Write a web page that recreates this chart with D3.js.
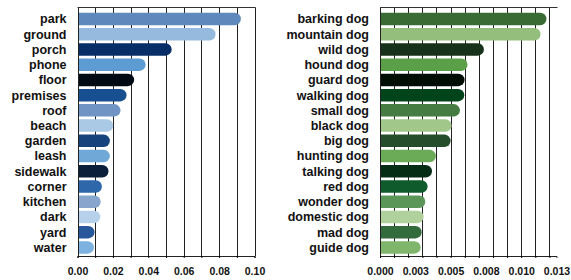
<!DOCTYPE html>
<html>
<head>
<meta charset="utf-8">
<script src="https://cdn.jsdelivr.net/npm/d3@7"></script>
<style>
  body { margin: 0; background: #fff; }
  svg { display: block; }
  .lbl { font-family: "Liberation Sans", Arial, sans-serif; font-weight: bold; font-size: 12.5px; fill: #111; }
  .tick text { font-family: "Liberation Sans", Arial, sans-serif; font-weight: bold; font-size: 10.5px; fill: #111; }
</style>
</head>
<body>
<div id="chart"></div>
<script>
// left panel: places
const placeWords = ['park', 'ground', 'porch', 'phone', 'floor', 'premises', 'roof', 'beach',
  'garden', 'leash', 'sidewalk', 'corner', 'kitchen', 'dark', 'yard', 'water'];
const placeValues = [0.0923, 0.0780, 0.0532, 0.0385, 0.0320, 0.0277, 0.0243, 0.0202,
  0.0183, 0.0183, 0.0175, 0.0138, 0.0131, 0.0129, 0.0096, 0.0093];
const placeColors = ['#5f89bd', '#95badd', '#072e66', '#5c9cd2', '#010b16', '#174f90', '#7095c4', '#a9c9e5',
  '#16437c', '#70a8d8', '#0b1f3b', '#2f67ab', '#87a5cd', '#b6d1e9', '#28579b', '#7db1df'];
const placeTicks = [0, 0.02, 0.04, 0.06, 0.08, 0.10];
const placeTickLabels = ['0.00', '0.02', '0.04', '0.06', '0.08', '0.10'];
const placeMax = 0.10;

// right panel: dogs
const dogWords = ['barking dog', 'mountain dog', 'wild dog', 'hound dog', 'guard dog', 'walking dog',
  'small dog', 'black dog', 'big dog', 'hunting dog', 'talking dog', 'red dog', 'wonder dog',
  'domestic dog', 'mad dog', 'guide dog'];
const dogValues = [0.01179, 0.01137, 0.00736, 0.00620, 0.00599, 0.00597, 0.00566, 0.00507,
  0.00500, 0.00396, 0.00368, 0.00337, 0.00321, 0.00309, 0.00295, 0.00288];
const dogColors = ['#3a6b35', '#94be7c', '#17311b', '#5b9f49', '#010e05', '#00441b', '#447c41', '#a1c78a',
  '#254d2c', '#6bab58', '#052c15', '#0f5b2b', '#5b9659', '#b0d19c', '#346b3c', '#80b66b'];
const dogTicks = [0, 0.0025, 0.005, 0.0075, 0.01, 0.0125];
const dogTickLabels = ['0.000', '0.003', '0.005', '0.008', '0.010', '0.013'];
const dogMax = 0.0125;

const W = 571, H = 280;
const plotTop = 7.5, plotBottom = 256;

const svg = d3.select('#chart').append('svg').attr('width', W).attr('height', H);

function panel(words, values, colors, ticks, tickLabels, maxV, x0, x1) {
  const x = d3.scaleLinear().domain([0, maxV]).range([x0, x1]);
  const y = d3.scaleBand().domain(words).range([11.4, 255]).paddingInner(0.18).paddingOuter(0.09);
  const g = svg.append('g');

  // grid lines every tenth of the domain
  g.append('g').selectAll('line')
    .data(x.ticks(10))
    .enter().append('line')
    .attr('x1', d => Math.round(x(d)) + 0.5)
    .attr('x2', d => Math.round(x(d)) + 0.5)
    .attr('y1', plotTop)
    .attr('y2', plotBottom)
    .attr('stroke', '#222')
    .attr('stroke-width', 1);

  // top border
  g.append('line')
    .attr('x1', x0).attr('x2', x1 + 1)
    .attr('y1', plotTop).attr('y2', plotTop)
    .attr('stroke', '#333');

  // bars with rounded right end
  const bw = y.bandwidth(), r = bw / 2;
  g.append('g').selectAll('path')
    .data(words)
    .enter().append('path')
    .attr('d', (d, i) => {
      const xs = Math.round(x(0)) + 1, xe = x(values[i]), yt = y(d);
      return 'M' + xs + ',' + yt + 'L' + (xe - r) + ',' + yt +
        'A' + r + ',' + r + ' 0 0 1 ' + (xe - r) + ',' + (yt + bw) +
        'L' + xs + ',' + (yt + bw) + 'Z';
    })
    .attr('fill', (d, i) => colors[i]);

  // labels
  g.append('g').selectAll('text')
    .data(words)
    .enter().append('text')
    .attr('class', 'lbl')
    .attr('x', x0 - 11)
    .attr('y', d => y(d) + bw / 2)
    .attr('dy', '0.35em')
    .attr('text-anchor', 'end')
    .text(d => d);

  // bottom axis: small ticks on every grid line
  const axMinor = d3.axisBottom(x).tickValues(x.ticks(10)).tickSize(2).tickFormat('');
  g.append('g').attr('transform', 'translate(0,' + plotBottom + ')').call(axMinor)
    .call(a => a.select('.domain').attr('stroke', '#222'));

  const ax = d3.axisBottom(x).tickValues(ticks).tickSize(0).tickPadding(12)
    .tickFormat((d, i) => tickLabels[i]);
  g.append('g').attr('transform', 'translate(0,' + plotBottom + ')').call(ax)
    .call(a => a.select('.domain').remove());
}

panel(placeWords, placeValues, placeColors, placeTicks, placeTickLabels, placeMax, 77.5, 254.5);
panel(dogWords, dogValues, dogColors, dogTicks, dogTickLabels, dogMax, 380, 556.5);
</script>
</body>
</html>
